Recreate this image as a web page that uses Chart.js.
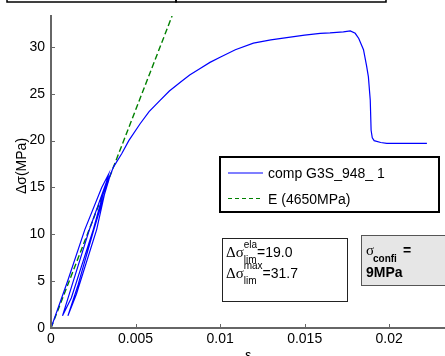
<!DOCTYPE html>
<html>
<head>
<meta charset="utf-8">
<script src="https://cdn.jsdelivr.net/npm/chart.js@4"></script>
<style>
  html, body { margin: 0; padding: 0; background: #fff; }
  #wrap { width: 445px; height: 356px; }
</style>
</head>
<body>
<div id="wrap"><canvas id="chart"></canvas></div>
<script>
// measured curve (strain, stress MPa)
const compStrain = [0, 0.0010, 0.0020, 0.0030, 0.0034,
  0.0025, 0.0012, 0.00068,
  0.0013, 0.00227, 0.0034,
  0.0027, 0.0015, 0.0010,
  0.0016, 0.0025, 0.0035, 0.0037,
  0.00418, 0.0046, 0.00527, 0.0058, 0.00645, 0.0070, 0.00763, 0.0082,
  0.00882, 0.0094, 0.0100, 0.0109, 0.01197, 0.0130, 0.01394, 0.0150,
  0.01592, 0.0165, 0.01729, 0.0177, 0.01799, 0.0182, 0.01848, 0.01866,
  0.01877, 0.01888, 0.01893, 0.0190, 0.01911, 0.0195, 0.01986, 0.02223]
const compStress = [0, 5.1, 10.5, 15.0, 16.4,
  10.5, 3.2, 1.3,
  4.9, 10.5, 16.2,
  10.5, 3.6, 1.3,
  4.6, 10.3, 16.3, 17.2,
  18.6, 20.0, 21.8, 23.1, 24.3, 25.3, 26.2, 27.0,
  27.7, 28.35, 28.9, 29.7, 30.4, 30.75, 31.0, 31.25,
  31.45, 31.5, 31.6, 31.7, 31.45, 30.9, 29.7, 28.0,
  26.8, 24.3, 21.1, 20.3, 20.0, 19.8, 19.7, 19.7]

// elastic fit line
const fitStrain = [0, 0.00716]
const fitStress = [0, 33.3]

const xTicks = [0, 0.005, 0.01, 0.015, 0.02]
const yTicks = [0, 5, 10, 15, 20, 25, 30]

const seriesLabels = ['comp G3S_948_ 1', 'E (4650MPa)']
const limEla = '19.0'
const limMax = '31.7'
const confiLabel = '9MPa'

const SANS = '"Liberation Sans", Arial, sans-serif'
const SERIF = '"Liberation Serif", "Times New Roman", serif'
const axisGray = '#666'

const toPoints = (xs, ys) => xs.map((v, i) => ({ x: v, y: ys[i] }))

const overlay = {
  id: 'overlay',
  afterDraw (chart) {
    const { ctx, chartArea: a, scales: { x, y } } = chart
    ctx.save()

    // inward tick marks
    ctx.strokeStyle = axisGray
    ctx.lineWidth = 1
    ctx.beginPath()
    xTicks.forEach(v => {
      const px = Math.round(x.getPixelForValue(v)) + 0.5
      ctx.moveTo(px, a.bottom)
      ctx.lineTo(px, a.bottom - 4)
    })
    yTicks.forEach(v => {
      const py = Math.round(y.getPixelForValue(v)) + 0.5
      ctx.moveTo(a.left, py)
      ctx.lineTo(a.left + 4, py)
    })
    ctx.stroke()

    // axis titles
    ctx.fillStyle = '#000'
    ctx.font = '14px ' + SANS
    ctx.textAlign = 'center'
    ctx.textBaseline = 'middle'
    ctx.save()
    ctx.translate(22, 166)
    ctx.rotate(-Math.PI / 2)
    ctx.fillText('Δσ(MPa)', 0, 0)
    ctx.restore()
    ctx.textBaseline = 'top'
    ctx.fillText('ε', (a.left + a.right) / 2, 349)

    // boxes cut at the top edge
    ctx.strokeStyle = '#000'
    ctx.lineWidth = 1.5
    ctx.strokeRect(7, -20, 169, 22)
    ctx.strokeRect(176, -20, 210, 22)

    // legend
    const ds = chart.data.datasets
    ctx.fillStyle = '#fff'
    ctx.fillRect(220, 157, 219, 55)
    ctx.lineWidth = 2
    ctx.strokeStyle = '#000'
    ctx.strokeRect(220, 157, 219, 55)
    ctx.textAlign = 'left'
    ctx.textBaseline = 'alphabetic'
    ctx.font = '14px ' + SANS
    ds.forEach((d, i) => {
      const ly = 173 + i * 25.5
      ctx.strokeStyle = d.borderColor
      ctx.lineWidth = 1.2
      ctx.setLineDash(d.borderDash ? [4, 3] : [])
      ctx.beginPath()
      ctx.moveTo(228, ly)
      ctx.lineTo(263, ly)
      ctx.stroke()
      ctx.setLineDash([])
      ctx.fillStyle = '#000'
      ctx.fillText(d.label, 268, ly + 5)
    })

    // limit annotation box
    ctx.fillStyle = '#fff'
    ctx.fillRect(222, 238, 125, 63)
    ctx.strokeStyle = '#222'
    ctx.lineWidth = 1
    ctx.strokeRect(222.5, 238.5, 125, 63)
    const limRow = (sup, val, base) => {
      ctx.fillStyle = '#000'
      ctx.font = '15px ' + SERIF
      ctx.fillText('Δσ', 226, base)
      const sx = 226 + ctx.measureText('Δσ').width
      ctx.font = '10px ' + SANS
      ctx.fillText(sup, sx, base - 9)
      ctx.fillText('lim', sx, base + 6)
      const w = Math.max(ctx.measureText(sup).width, ctx.measureText('lim').width)
      ctx.font = '14px ' + SANS
      ctx.fillText('=' + val, sx + w, base)
    }
    limRow('ela', limEla, 257)
    limRow('max', limMax, 278)

    // confinement box
    ctx.fillStyle = '#e6e6e6'
    ctx.fillRect(361, 235, 100, 50)
    ctx.strokeStyle = '#555'
    ctx.strokeRect(361.5, 235.5, 100, 50)
    ctx.fillStyle = '#000'
    ctx.font = '15px ' + SERIF
    ctx.fillText('σ', 366, 255)
    ctx.font = 'bold 10px ' + SANS
    ctx.fillText('confi', 373, 262)
    ctx.font = 'bold 14px ' + SANS
    ctx.fillText('=', 403, 255)
    ctx.fillText(confiLabel, 366, 277)

    ctx.restore()
  }
}

new Chart(document.getElementById('chart'), {
  type: 'line',
  data: {
    datasets: [
      {
        label: seriesLabels[0],
        data: toPoints(compStrain, compStress),
        borderColor: '#0000ff',
        borderWidth: 1.2,
        pointRadius: 0,
        tension: 0
      },
      {
        label: seriesLabels[1],
        data: toPoints(fitStrain, fitStress),
        borderColor: '#008000',
        borderWidth: 1.4,
        borderDash: [6, 3],
        pointRadius: 0,
        tension: 0
      }
    ]
  },
  options: {
    responsive: true,
    maintainAspectRatio: false,
    animation: false,
    layout: { padding: { top: 16, left: 0, right: 0, bottom: 0 } },
    plugins: {
      legend: { display: false },
      tooltip: { enabled: false }
    },
    scales: {
      x: {
        type: 'linear',
        min: 0,
        max: 0.0233,
        afterBuildTicks: s => { s.ticks = xTicks.map(v => ({ value: v })) },
        afterFit: s => { s.height = 28 },
        border: { display: true, color: axisGray, width: 2 },
        grid: { display: false, drawTicks: false },
        ticks: {
          padding: 3,
          color: '#000',
          font: { family: SANS, size: 14 },
          maxRotation: 0,
          callback: v => String(v)
        }
      },
      y: {
        type: 'linear',
        min: 0,
        max: 33.3,
        afterBuildTicks: s => { s.ticks = yTicks.map(v => ({ value: v })) },
        afterFit: s => { s.width = 51 },
        border: { display: true, color: axisGray, width: 2 },
        grid: { display: false, drawTicks: false },
        ticks: {
          padding: 6,
          color: '#000',
          font: { family: SANS, size: 14 },
          callback: v => String(v)
        }
      }
    }
  },
  plugins: [overlay]
})
</script>
</body>
</html>
